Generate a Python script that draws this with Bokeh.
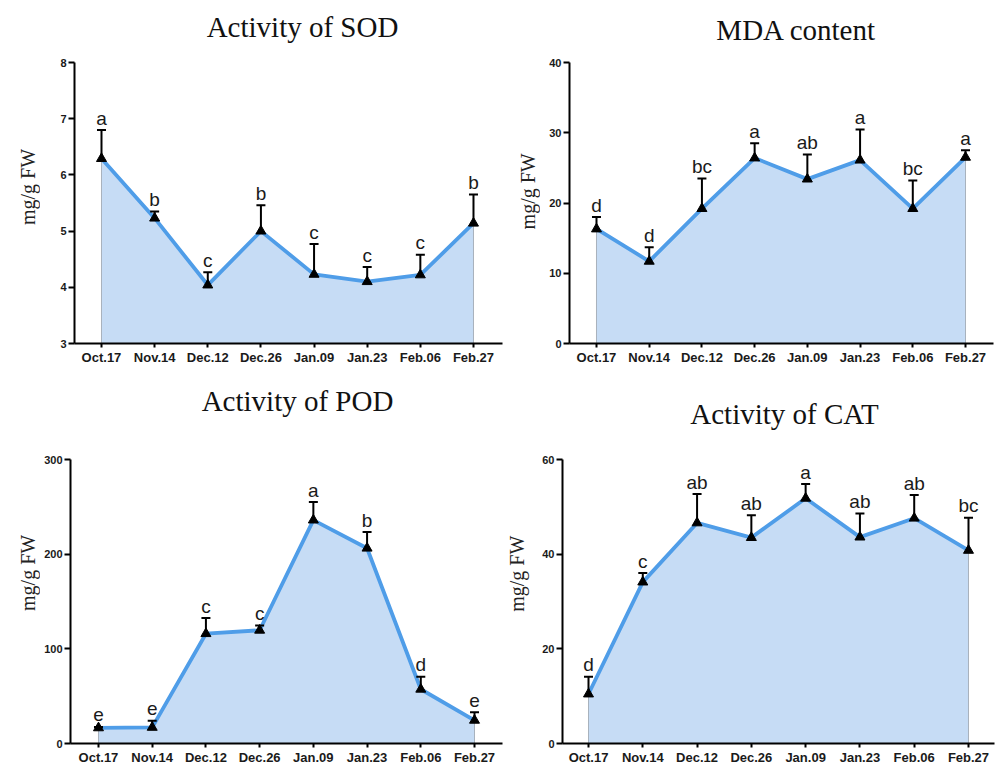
from math import pi
from bokeh.plotting import figure
from bokeh.layouts import column, row
from bokeh.models import Range1d, FixedTicker, Whisker, TeeHead, ColumnDataSource
from bokeh.core.properties import value
from bokeh.embed import file_html
from bokeh.resources import INLINE

# ---------------- data ----------------
dates = ["Oct.17", "Nov.14", "Dec.12", "Dec.26", "Jan.09", "Jan.23", "Feb.06", "Feb.27"]

sod_mean = [6.29, 5.23, 4.04, 5.00, 4.23, 4.10, 4.22, 5.14]
sod_err = [0.51, 0.12, 0.23, 0.46, 0.54, 0.26, 0.36, 0.51]
sod_letters = ["a", "b", "c", "b", "c", "c", "c", "b"]

mda_mean = [16.3, 11.7, 19.2, 26.4, 23.4, 26.1, 19.2, 26.5]
mda_err = [1.7, 2.0, 4.3, 2.1, 3.5, 4.35, 4.0, 1.0]
mda_letters = ["d", "d", "bc", "a", "ab", "a", "bc", "a"]

pod_mean = [16.5, 17.0, 116.0, 119.6, 236.0, 206.3, 57.3, 24.5]
pod_err = [1.0, 7.0, 16.5, 5.0, 19.0, 17.0, 13.3, 8.5]
pod_letters = ["e", "e", "c", "c", "a", "b", "d", "e"]

cat_mean = [10.45, 34.1, 46.6, 43.5, 51.8, 43.6, 47.6, 40.8]
cat_err = [3.65, 1.9, 6.1, 4.7, 3.0, 5.0, 4.9, 6.9]
cat_letters = ["d", "c", "ab", "ab", "a", "ab", "ab", "bc"]

sod_ticks = [3, 4, 5, 6, 7, 8]
mda_ticks = [0, 10, 20, 30, 40]
pod_ticks = [0, 100, 200, 300]
cat_ticks = [0, 20, 40, 60]

titles = ["Activity of SOD", "MDA content", "Activity of POD", "Activity of CAT"]
y_label = "mg/g FW"

FILL = "#c6dcf5"
LINE = "#4f9de8"
EDGE = "#a8b2bd"
SERIF = "Liberation Serif"
SANS = "Liberation Sans"


def strip(width, height):
    """Blank figure whose data coordinates are its own pixels (y downward)."""
    s = figure(width=width, height=height, output_backend="svg", toolbar_location=None,
               x_range=Range1d(0, width), y_range=Range1d(height, 0),
               x_axis_type=None, y_axis_type=None, min_border=0)
    s.outline_line_color = None
    s.background_fill_color = "white"
    s.border_fill_color = "white"
    return s


def title_strip(width, height, items):
    s = strip(width, height)
    for text, x, y in items:
        s.text(x=[x], y=[y], text=[text], text_align="center", text_baseline="middle",
               text_font=value(SERIF), text_font_size="29px", text_color="#111111")
    return s


def ylabel_strip(width, height, x, y):
    s = strip(width, height)
    s.text(x=[x], y=[y], text=[y_label], angle=pi / 2, text_align="center",
           text_baseline="middle", text_font=value(SERIF), text_font_size="20px",
           text_color="#222222")
    return s


def make_panel(mean, err, letters, y_lo, y_hi, y_ticks, width, height,
               bl, br, bt, bb, x_lo, x_hi):
    p = figure(width=width, height=height, output_backend="svg", toolbar_location=None,
               x_range=Range1d(x_lo, x_hi), y_range=Range1d(y_lo, y_hi),
               min_border_left=bl, min_border_right=br, min_border_top=bt,
               min_border_bottom=bb)
    p.outline_line_color = None
    p.background_fill_color = "white"
    p.border_fill_color = "white"
    p.xgrid.visible = False
    p.ygrid.visible = False

    frame_h = height - bt - bb
    lift = 12.0 * (y_hi - y_lo) / frame_h  # letter centre ~12 px above the cap

    n = len(mean)
    xs = list(range(n))
    tops = [m + e for m, e in zip(mean, err)]
    src = ColumnDataSource(dict(x=xs, m=mean, top=tops, base=[y_lo] * n,
                                ty=[t + lift for t in tops], lab=letters))

    p.varea(x="x", y1="base", y2="m", source=src, fill_color=FILL, fill_alpha=1.0)
    p.segment(x0=[xs[0], xs[-1]], y0=[y_lo, y_lo], x1=[xs[0], xs[-1]],
              y1=[mean[0], mean[-1]], line_color=EDGE, line_width=1)
    p.line(x="x", y="m", source=src, line_color=LINE, line_width=3.8)
    p.scatter(x="x", y="m", source=src, marker="triangle", size=10,
              fill_color="black", line_color="black")
    wh = Whisker(base="x", upper="top", lower="m", source=src, dimension="height",
                 line_color="black", line_width=2, level="annotation",
                 upper_head=TeeHead(size=9, line_color="black", line_width=2),
                 lower_head=None)
    p.add_layout(wh)
    p.text(x="x", y="ty", text="lab", source=src, text_align="center",
           text_baseline="middle", text_font=value(SANS),
           text_font_size="19px", text_color="#1a1a1a")

    p.xaxis.ticker = FixedTicker(ticks=xs)
    p.xaxis.major_label_overrides = {i: d for i, d in enumerate(dates)}
    p.yaxis.ticker = FixedTicker(ticks=y_ticks)
    for ax in (p.xaxis, p.yaxis):
        ax.axis_line_width = 2
        ax.axis_line_color = "black"
        ax.major_tick_line_width = 2
        ax.major_tick_line_color = "black"
        ax.major_tick_in = 0
        ax.minor_tick_line_color = None
        ax.major_label_text_font = SANS
        ax.major_label_text_font_style = "bold"
        ax.major_label_text_color = "#1a1a1a"
    p.xaxis.major_tick_out = 4
    p.xaxis.major_label_standoff = 2
    p.xaxis.major_label_text_font_size = "13px"
    p.yaxis.major_tick_out = 6
    p.yaxis.major_label_standoff = 2
    p.yaxis.major_label_text_font_size = "11px"
    return p


# ---------- row 1 (titles strip 0-50, plots 50-375) ----------
t1 = title_strip(996, 50, [(titles[0], 302, 26), (titles[1], 796, 29)])
l1 = ylabel_strip(40, 325, 27, 194 - 50)
p1 = make_panel(sod_mean, sod_err, sod_letters, 3, 8, sod_ticks,
                465, 325, 34, 3, 9, 32, -0.508, 7.546)
l2 = ylabel_strip(35, 325, 22, 199 - 50)
p2 = make_panel(mda_mean, mda_err, mda_letters, 0, 40, mda_ticks,
                456, 325, 29, 3, 12, 31, -0.512, 7.531)

# ---------- row 2 (titles strip 375-435, plots 435-768) ----------
t2 = title_strip(996, 60, [(titles[2], 297, 400 - 375), (titles[3], 784, 413 - 375)])
l3 = ylabel_strip(40, 333, 27, 568 - 435)
p3 = make_panel(pod_mean, pod_err, pod_letters, 0, 300, pod_ticks,
                465, 333, 30, 3, 24, 25, -0.521, 7.521)
l4 = ylabel_strip(30, 333, 11, 569 - 435)
p4 = make_panel(cat_mean, cat_err, cat_letters, 0, 60, cat_ticks,
                461, 333, 27, 2, 24, 25, -0.479, 7.479)

layout = column(t1, row(l1, p1, l2, p2), t2, row(l3, p3, l4, p4))

open("out.html", "w").write(file_html(layout, INLINE))
